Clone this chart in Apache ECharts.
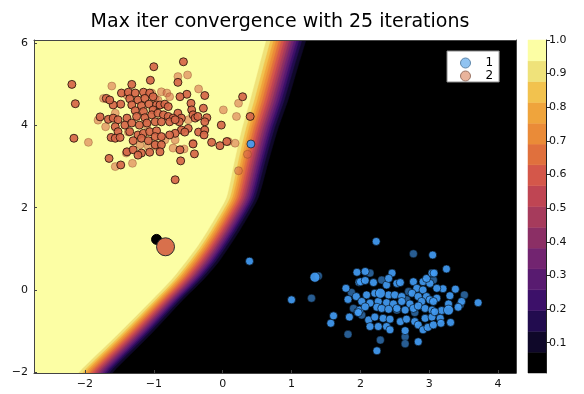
<!DOCTYPE html>
<html>
<head>
<meta charset="utf-8">
<script src="https://cdn.jsdelivr.net/npm/echarts@6/dist/echarts.min.js"></script>
<style>
  html, body { margin: 0; padding: 0; background: #fff; }
  #chart { width: 584px; height: 394px; }
</style>
</head>
<body>
<div id="chart"></div>
<script>
// ---- axis ranges and ticks ----
const xRange = [-2.74, 4.26];
const yRange = [-2.02, 6.08];
const xTicks = [-2, -1, 0, 1, 2, 3, 4];
const yTicks = [-2, 0, 2, 4, 6];
const colorbarTicks = [0.1, 0.2, 0.3, 0.4, 0.5, 0.6, 0.7, 0.8, 0.9, 1.0];

// ---- filled contour levels (probability of class 2) ----
const levelEdges = [0.01, 0.0719, 0.1338, 0.1956, 0.2575, 0.3194, 0.3813, 0.4431,
                    0.505, 0.5669, 0.6288, 0.6906, 0.7525, 0.8144, 0.8763, 0.9381, 1.0];
const levelColors = ['#000000', '#0f0829', '#220c4f', '#3c1069', '#581b70', '#722470',
                     '#8b2f65', '#a63b5c', '#bf4553', '#d4574a', '#e0703d', '#ea8b38',
                     '#efa43c', '#f2c24e', '#efe27a', '#fcfea4'];

// decision ramp, row by row: y, x where p crosses the top level, ramp width to the lowest level
const rampY     = [6.7, 6.08, 5.40, 4.62, 3.89, 3.09, 2.26, 1.87, 1.46, 1.05, 0.66, 0.24, -0.24, -1.05, -1.87, -2.7];
const rampEdgeX = [0.728, 0.629, 0.520, 0.397, 0.273, 0.164, 0.055, -0.068, -0.214, -0.373, -0.548, -0.751, -1.027, -1.507, -2.015, -2.53];
const rampWidth = [0.59, 0.581, 0.567, 0.552, 0.523, 0.494, 0.465, 0.465, 0.465, 0.465, 0.479, 0.465, 0.450, 0.479, 0.494, 0.50];
// position of each level line inside the ramp (level 1 .. 15)
const levelFrac = [1.0, 0.90, 0.825, 0.763, 0.70, 0.638, 0.575, 0.513, 0.45, 0.383, 0.318, 0.25, 0.183, 0.108, 0.0];

// ---- class 2 samples ----
const class2Strong = [
  [-2.19,5.00],[-2.14,4.53],[-2.16,3.69],[-1.00,5.43],[-1.05,5.10],[-1.32,5.00],[-1.65,3.20],[-1.48,3.04],
  [-1.78,4.21],[-1.66,4.15],[-1.59,4.18],[-1.52,4.14],[-1.56,3.97],[-1.52,3.85],[-1.62,3.71],[-1.56,3.69],
  [-1.49,3.71],[-1.48,4.52],[-1.59,4.50],[-1.69,4.66],[-1.64,4.62],[-1.47,4.79],[-1.37,4.81],[-1.27,4.79],
  [-1.15,4.81],[-1.06,4.79],[-1.35,4.65],[-1.23,4.62],[-1.13,4.66],[-1.01,4.70],[-1.32,4.50],[-1.18,4.48],
  [-1.07,4.52],[-0.96,4.50],[-1.27,4.36],[-1.15,4.34],[-1.01,4.38],[-1.39,4.18],[-1.25,4.22],[-1.13,4.19],
  [-1.03,4.26],[-1.42,4.01],[-1.32,4.06],[-1.21,4.01],[-1.10,4.06],[-0.98,4.09],[-1.35,3.85],[-1.23,3.77],
  [-1.15,3.81],[-1.06,3.85],[-0.96,3.87],[-1.30,3.63],[-1.18,3.69],[-1.08,3.63],[-0.98,3.73],[-1.39,3.36],
  [-1.30,3.41],[-1.18,3.33],[-1.06,3.35],[-0.98,3.53],[-1.23,3.28],
  [-0.57,5.55],[-0.65,5.05],[-0.52,4.76],[-0.62,4.70],[-0.26,4.73],[-0.46,4.54],[-0.28,4.42],[-0.45,4.38],
  [-0.43,4.26],[-0.40,4.18],[-0.23,4.19],[-0.26,4.09],[-0.65,4.30],[-0.60,4.18],[-0.63,4.09],[-0.91,4.50],
  [-0.84,4.52],[-0.79,4.46],[-0.94,4.30],[-0.86,4.26],[-0.79,4.22],[-0.72,4.18],[-0.89,4.09],[-0.77,4.09],
  [-0.69,4.14],[-0.50,3.93],[-0.35,3.84],[-0.26,3.89],[-0.27,3.77],[-0.60,3.89],[-0.55,3.84],[-0.69,3.81],
  [-0.77,3.77],[-0.89,3.73],[-0.16,3.59],[-0.04,3.51],[0.06,3.61],[-0.89,3.53],[-0.91,3.36],[-0.62,3.41],
  [-0.43,3.55],[-0.41,3.31],[-0.61,3.14],[-0.69,2.68],[0.29,4.70],[0.40,4.22],[-0.36,4.22],[-0.02,4.01]
];
const class2Faint = [
  [-1.61,4.96],[-1.73,4.66],[-1.81,4.13],[-1.70,3.97],[-1.95,3.59],[-1.56,4.30],[-1.37,3.84],[-1.31,3.08],
  [-1.56,3.00],[-1.40,3.33],[-1.20,3.53],[-1.08,3.49],[-1.39,4.74],[-1.03,4.79],[-1.10,4.01],[-0.96,3.49],
  [-0.65,5.19],[-0.51,5.23],[-0.35,4.89],[-0.89,4.82],[-0.81,4.79],[-0.77,4.70],[-0.98,4.66],[-0.94,4.62],
  [0.01,4.38],[0.20,4.22],[-0.43,3.57],[-0.56,3.43],[-0.72,3.45],[0.18,3.57],[-0.84,3.65],[-0.69,3.65],
  [-0.50,4.14],[0.23,4.54],[0.36,3.30],[0.23,2.90],[0.08,3.61]
];

// ---- class 1 samples ----
const class1Strong = [
  [1.95,0.43],[1.98,0.19],[1.79,0.04],[1.82,-0.23],[1.94,-0.16],[1.96,-0.54],[1.84,-0.66],[1.61,-0.63],
  [1.57,-0.81],[1.00,-0.24],[2.23,1.18],[3.05,0.85],[2.07,0.45],[2.19,0.18],[2.00,0.20],[2.07,0.23],
  [2.38,0.12],[2.53,0.16],[2.58,0.18],[2.46,0.41],[2.41,0.28],[2.77,0.20],[2.91,0.20],[3.01,0.16],
  [2.82,0.04],[2.91,0.00],[2.96,0.28],[3.04,0.41],[2.09,-0.12],[2.21,-0.08],[2.41,-0.12],[2.50,-0.12],
  [2.60,-0.16],[2.75,-0.08],[2.84,-0.16],[2.96,-0.16],[2.02,-0.28],[2.14,-0.32],[2.26,-0.28],[2.38,-0.31],
  [2.48,-0.34],[2.60,-0.28],[2.72,-0.34],[2.89,-0.28],[3.01,-0.24],[1.99,-0.49],[2.07,-0.41],[2.24,-0.42],
  [2.31,-0.45],[2.41,-0.47],[2.53,-0.45],[2.65,-0.49],[2.77,-0.45],[2.84,-0.39],[2.94,-0.45],[3.04,-0.49],
  [1.97,-0.55],[2.12,-0.73],[2.21,-0.66],[2.33,-0.69],[2.43,-0.71],[2.58,-0.77],[2.67,-0.71],[2.79,-0.77],
  [2.94,-0.69],[3.04,-0.66],[2.14,-0.89],[2.26,-0.89],[2.38,-0.89],[2.43,-0.97],[2.65,-0.99],[2.84,-0.85],
  [2.91,-0.97],[2.98,-0.91],[2.84,-1.26],[2.24,-1.48],[3.25,0.51],[3.07,0.41],[3.38,0.02],[3.30,-0.14],
  [3.20,0.03],[3.11,0.04],[3.11,-0.20],[3.06,-0.28],[3.47,-0.28],[3.71,-0.31],[3.28,-0.34],[3.42,-0.42],
  [3.18,-0.50],[3.08,-0.53],[3.16,-0.69],[3.06,-0.85],[3.31,-0.79],[3.17,-0.81],[0.39,0.70],[0.41,3.55]
];
const class1Large = [[1.34,0.31],[2.29,-0.08],[3.28,-0.49]];
const class1Faint = [
  [1.39,0.34],[1.29,-0.20],[1.87,-0.06],[1.90,-0.45],[1.82,-1.08],[2.77,0.88],[2.31,0.24],[2.67,-0.24],
  [2.29,-1.22],[2.65,-1.14],[2.65,-1.31],[2.02,-0.61],[2.79,-0.55],[2.14,0.41],[2.70,-0.04],[2.53,-0.49],
  [3.51,-0.12],[3.06,0.24],[3.45,-0.36]
];

// ---- highlighted query points ----
const queryPoint = [[-0.96, 1.23]];
const queryPointLarge = [[-0.83, 1.05]];

const minus = v => String(v).replace('-', '\u2212');
const FONT = 'DejaVu Sans';

function contourItem(params, api) {
  const children = [];
  const tl = api.coord([xRange[0], yRange[1]]);
  const br = api.coord([xRange[1], yRange[0]]);
  children.push({ type: 'rect', shape: { x: tl[0], y: tl[1], width: br[0] - tl[0], height: br[1] - tl[1] },
                  style: { fill: levelColors[0] } });
  for (let k = 1; k < levelColors.length; k++) {
    const pts = [api.coord([xRange[0] - 2, rampY[0]])];
    for (let i = 0; i < rampY.length; i++) {
      pts.push(api.coord([rampEdgeX[i] + rampWidth[i] * levelFrac[k - 1], rampY[i]]));
    }
    pts.push(api.coord([xRange[0] - 2, rampY[rampY.length - 1]]));
    children.push({ type: 'polygon', shape: { points: pts, smooth: 0.25 },
                    style: { fill: levelColors[k], stroke: levelColors[k], lineWidth: 0.5 } });
  }
  return { type: 'group', children: children };
}

function colorbarItem(params, api) {
  const k = api.value(0);
  const p1 = api.coord([0, levelEdges[k + 1]]);
  const p2 = api.coord([1, levelEdges[k]]);
  return { type: 'rect', shape: { x: p1[0], y: p1[1], width: p2[0] - p1[0], height: p2[1] - p1[1] },
           style: { fill: levelColors[k], stroke: levelColors[k], lineWidth: 0.5 } };
}

const blue = 'rgba(66,155,243,';
const orange = 'rgba(213,102,72,';

function scatter(name, data, size, fill, border, z) {
  return {
    type: 'scatter', name: name, data: data, symbol: 'circle', symbolSize: size,
    xAxisIndex: 0, yAxisIndex: 0, silent: true, z: z,
    itemStyle: { color: fill, borderColor: border, borderWidth: 1, opacity: 1 },
    emphasis: { disabled: true }
  };
}

const chart = echarts.init(document.getElementById('chart'), null, { renderer: 'canvas' });
chart.setOption({
  animation: false,
  backgroundColor: '#ffffff',
  textStyle: { fontFamily: FONT },
  title: {
    text: 'Max iter convergence with 25 iterations',
    left: 275, top: 8, textAlign: 'center',
    textStyle: { fontFamily: FONT, fontSize: 19, fontWeight: 'normal', color: '#000' }
  },
  legend: {
    orient: 'vertical', left: 447, top: 51,
    itemWidth: 10, itemHeight: 10, itemGap: 1,
    padding: [6, 6, 0, 13],
    backgroundColor: '#ffffff', borderColor: '#8a8a8a', borderWidth: 1, borderRadius: 0,
    textStyle: { fontFamily: FONT, fontSize: 12, color: '#000', lineHeight: 11, padding: [0, 0, 0, 10] },
    selectedMode: false,
    data: [
      { name: '1', icon: 'circle', itemStyle: { color: '#90c3f1', borderColor: '#5f87aa', borderWidth: 1 } },
      { name: '2', icon: 'circle', itemStyle: { color: '#e9b49c', borderColor: '#9a7566', borderWidth: 1 } }
    ]
  },
  grid: [
    { left: 34, top: 40, width: 482, height: 333, containLabel: false },
    { left: 528, top: 40, width: 18, height: 333, containLabel: false }
  ],
  xAxis: [
    { type: 'value', gridIndex: 0, min: xRange[0], max: xRange[1], z: 5,
      axisLine: { show: true, onZero: false, lineStyle: { color: '#444', width: 1 } },
      axisTick: { show: true, inside: true, length: 3, customValues: xTicks, lineStyle: { color: '#444' } },
      axisLabel: { customValues: xTicks, formatter: minus, fontFamily: FONT, fontSize: 11, color: '#111', margin: 6 },
      splitLine: { show: false } },
    { type: 'value', gridIndex: 1, min: 0, max: 1, show: false },
    { type: 'value', gridIndex: 0, min: xRange[0], max: xRange[1], position: 'top', z: 5,
      axisLine: { show: true, onZero: false, lineStyle: { color: '#444', width: 1 } },
      axisTick: { show: false }, axisLabel: { show: false }, splitLine: { show: false } }
  ],
  yAxis: [
    { type: 'value', gridIndex: 0, min: yRange[0], max: yRange[1], z: 5,
      axisLine: { show: true, onZero: false, lineStyle: { color: '#444', width: 1 } },
      axisTick: { show: true, inside: true, length: 3, customValues: yTicks, lineStyle: { color: '#444' } },
      axisLabel: { customValues: yTicks, formatter: minus, fontFamily: FONT, fontSize: 11, color: '#111', margin: 6 },
      splitLine: { show: false } },
    { type: 'value', gridIndex: 1, min: levelEdges[0], max: 1.0, position: 'right', z: 5,
      axisLine: { show: true, onZero: false, lineStyle: { color: '#222', width: 1 } },
      axisTick: { show: true, inside: false, length: 4, customValues: colorbarTicks, lineStyle: { color: '#222' } },
      axisLabel: { customValues: colorbarTicks, formatter: v => v.toFixed(1), fontFamily: FONT, fontSize: 11, color: '#111', margin: 3 },
      splitLine: { show: false } },
    { type: 'value', gridIndex: 0, min: yRange[0], max: yRange[1], position: 'right', z: 5,
      axisLine: { show: true, onZero: false, lineStyle: { color: '#444', width: 1 } },
      axisTick: { show: false }, axisLabel: { show: false }, splitLine: { show: false } }
  ],
  series: [
    { type: 'custom', name: 'contour', xAxisIndex: 0, yAxisIndex: 0, clip: true, silent: true, z: 1,
      data: [[0, 0]], renderItem: contourItem },
    { type: 'custom', name: 'colorbar', xAxisIndex: 1, yAxisIndex: 1, clip: false, silent: true, z: 1,
      data: levelColors.map((c, i) => [i]), renderItem: colorbarItem },
    scatter('1', class1Faint, 8, blue + '0.6)', 'rgba(0,0,0,0.4)', 3),
    scatter('1', class1Strong, 8, blue + '0.92)', 'rgba(0,0,0,0.6)', 3),
    scatter('1', class1Large, 10, blue + '0.92)', 'rgba(0,0,0,0.6)', 3),
    scatter('2', class2Faint, 8, orange + '0.55)', 'rgba(120,60,30,0.35)', 4),
    scatter('2', class2Strong, 8, orange + '0.92)', 'rgba(40,20,10,0.85)', 4),
    scatter('query', queryPoint, 10, '#000000', '#000000', 5),
    scatter('queryLarge', queryPointLarge, 18, 'rgb(216,112,76)', '#2b2b2b', 6)
  ]
});
</script>
</body>
</html>
